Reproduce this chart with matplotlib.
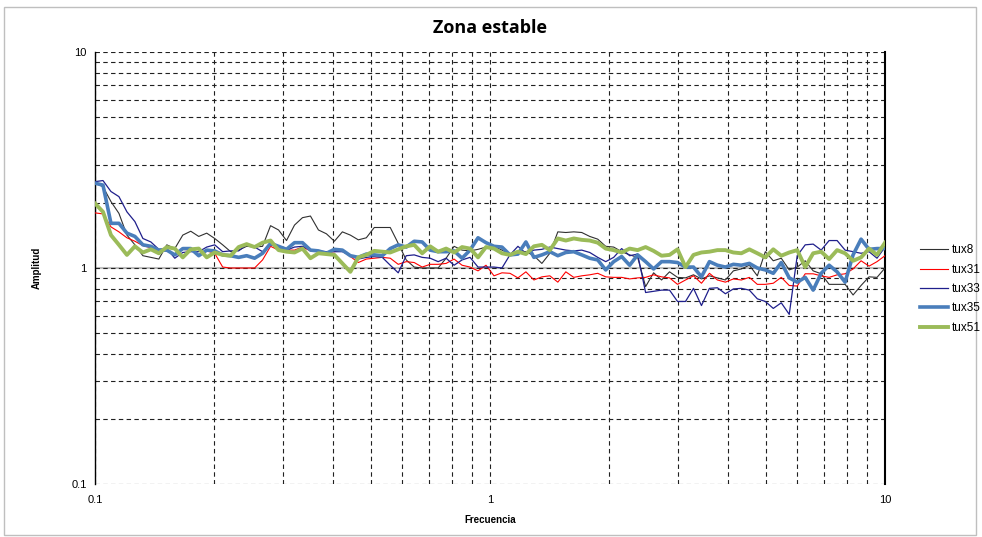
import numpy as np
import matplotlib.pyplot as plt
from matplotlib.patches import Rectangle

# --- Data (log-spaced frequencies 0.1 .. 10) ---
tux8 = [2.47, 2.38, 2.03, 1.79, 1.42, 1.28, 1.14, 1.12, 1.10, 1.28,
        1.23, 1.42, 1.48, 1.40, 1.45, 1.37, 1.28, 1.19, 1.21, 1.26,
        1.25, 1.26, 1.57, 1.50, 1.34, 1.58, 1.71, 1.74, 1.50, 1.44,
        1.33, 1.47, 1.42, 1.35, 1.38, 1.54, 1.54, 1.54, 1.30, 1.09,
        1.01, 1.00, 1.00, 1.00, 1.11, 1.26, 1.21, 1.20, 1.22, 1.25,
        1.26, 1.21, 1.16, 1.19, 1.19, 1.14, 1.05, 1.17, 1.47, 1.46,
        1.47, 1.46, 1.40, 1.36, 1.26, 1.25, 1.19, 1.15, 1.12, 0.82,
        0.95, 0.88, 0.96, 0.905, 0.90, 0.93, 0.89, 0.92, 0.90, 0.88,
        0.97, 0.99, 1.03, 0.92, 1.19, 1.08, 1.11, 0.98, 1.01, 1.08,
        0.97, 0.94, 0.84, 0.84, 0.84, 0.75, 0.83, 0.91, 0.905, 1.00]

tux31 = [1.80, 1.78, 1.55, 1.47, 1.38, 1.33, 1.27, 1.24, 1.21, 1.20,
         1.16, 1.22, 1.21, 1.15, 1.20, 1.17, 1.01, 1.00, 1.00, 1.00,
         1.00, 1.09, 1.26, 1.21, 1.21, 1.21, 1.25, 1.20, 1.19, 1.18,
         1.19, 1.21, 1.13, 1.06, 1.10, 1.11, 1.12, 1.11, 1.04, 1.07,
         1.06, 1.01, 1.04, 1.04, 1.05, 1.10, 1.03, 1.01, 0.97, 1.03,
         0.92, 0.95, 0.945, 0.90, 0.96, 0.88, 0.91, 0.92, 0.86, 0.96,
         0.905, 0.92, 0.93, 0.945, 0.91, 0.905, 0.905, 0.89, 0.90, 0.905,
         0.93, 0.91, 0.90, 0.84, 0.88, 0.92, 0.85, 0.945, 0.88, 0.86,
         0.89, 0.88, 0.905, 0.84, 0.84, 0.85, 0.905, 0.83, 0.825, 0.94,
         0.94, 0.92, 0.905, 0.93, 0.94, 0.99, 1.08, 1.02, 1.07, 1.14]

tux33 = [2.51, 2.54, 2.26, 2.14, 1.82, 1.64, 1.37, 1.32, 1.22, 1.23,
         1.11, 1.18, 1.19, 1.19, 1.25, 1.28, 1.19, 1.20, 1.20, 1.28,
         1.25, 1.19, 1.28, 1.25, 1.21, 1.25, 1.26, 1.21, 1.20, 1.19,
         1.19, 1.19, 1.14, 1.10, 1.12, 1.13, 1.12, 1.03, 0.95, 1.14,
         1.15, 1.12, 1.11, 1.07, 1.11, 1.03, 1.09, 1.12, 1.01, 1.01,
         1.01, 1.00, 1.15, 1.26, 1.17, 1.21, 1.22, 1.25, 1.23, 1.21,
         1.20, 1.21, 1.18, 1.12, 1.07, 1.12, 1.23, 1.14, 1.16, 0.77,
         0.78, 0.79, 0.79, 0.70, 0.70, 0.805, 0.67, 0.805, 0.81, 0.76,
         0.80, 0.805, 0.79, 0.72, 0.70, 0.65, 0.69, 0.61, 1.14, 1.28,
         1.29, 1.21, 1.34, 1.34, 1.21, 1.19, 1.17, 1.19, 1.11, 1.25]

tux35 = [2.47, 2.42, 1.61, 1.61, 1.45, 1.40, 1.28, 1.26, 1.21, 1.21,
         1.15, 1.23, 1.23, 1.14, 1.21, 1.20, 1.15, 1.14, 1.12, 1.14,
         1.11, 1.17, 1.30, 1.26, 1.22, 1.31, 1.31, 1.21, 1.20, 1.17,
         1.22, 1.21, 1.14, 1.12, 1.16, 1.15, 1.14, 1.23, 1.28, 1.25,
         1.33, 1.32, 1.21, 1.19, 1.19, 1.20, 1.11, 1.21, 1.38, 1.31,
         1.26, 1.25, 1.15, 1.16, 1.32, 1.12, 1.15, 1.19, 1.14, 1.18,
         1.19, 1.15, 1.11, 1.09, 0.98, 1.07, 1.13, 1.03, 1.15, 1.07,
         0.99, 1.07, 1.07, 1.06, 1.01, 1.01, 0.91, 1.07, 1.03, 1.01,
         1.04, 1.03, 1.05, 1.00, 0.98, 0.945, 1.06, 0.90, 0.86, 0.905,
         0.79, 0.945, 1.03, 0.96, 0.86, 1.15, 1.36, 1.22, 1.23, 1.23]

tux51 = [1.99, 1.82, 1.42, 1.28, 1.15, 1.26, 1.18, 1.22, 1.17, 1.25,
         1.23, 1.12, 1.22, 1.23, 1.12, 1.18, 1.15, 1.14, 1.25, 1.29,
         1.25, 1.31, 1.34, 1.21, 1.19, 1.18, 1.23, 1.11, 1.17, 1.16,
         1.15, 1.05, 0.96, 1.12, 1.15, 1.20, 1.19, 1.18, 1.22, 1.26,
         1.28, 1.17, 1.26, 1.19, 1.23, 1.18, 1.25, 1.23, 1.12, 1.25,
         1.23, 1.17, 1.15, 1.19, 1.16, 1.26, 1.28, 1.21, 1.37, 1.34,
         1.37, 1.35, 1.34, 1.31, 1.23, 1.21, 1.18, 1.23, 1.21, 1.25,
         1.20, 1.14, 1.15, 1.22, 1.01, 1.15, 1.18, 1.19, 1.21, 1.21,
         1.18, 1.17, 1.22, 1.17, 1.12, 1.22, 1.14, 1.18, 1.21, 1.01,
         1.17, 1.19, 1.10, 1.21, 1.17, 1.08, 1.12, 1.23, 1.15, 1.31]

freq = np.logspace(-1, 1, len(tux8))

series = [
    ('tux8', tux8, '#303030', 0.8),
    ('tux31', tux31, '#FF0000', 0.8),
    ('tux33', tux33, '#1F1F8C', 0.9),
    ('tux35', tux35, '#4A7EBB', 2.6),
    ('tux51', tux51, '#9BBB59', 2.8),
]

plt.rcParams['font.family'] = ['Liberation Sans', 'DejaVu Sans']

fig = plt.figure(figsize=(9.82, 5.37), dpi=100)
ax = fig.add_axes([95 / 982, 1 - 484 / 537, 790 / 982, 432 / 537])

ax.set_xscale('log')
ax.set_yscale('log')
ax.set_xlim(0.1, 10)
ax.set_ylim(0.1, 10)

# dashed grid (major + minor), solid grey line at 1
ax.grid(True, which='both', linestyle=(0, (4, 3)), color='#202020', linewidth=0.8)
ax.axhline(1, color='#BFBFBF', linewidth=1.5, zorder=1.5)

for name, vals, col, lw in series:
    ax.plot(freq, vals, color=col, linewidth=lw, label=name, zorder=3)

for side in ['top', 'bottom']:
    ax.spines[side].set_visible(False)
ax.spines['left'].set_linewidth(1.0)
ax.spines['right'].set_linewidth(1.5)

ax.set_xticks([0.1, 1, 10])
ax.set_xticklabels(['0.1', '1', '10'])
ax.set_yticks([0.1, 1, 10])
ax.set_yticklabels(['0.1', '1', '10'])
ax.tick_params(which='both', length=0, labelsize=8, pad=8)
ax.tick_params(axis='y', pad=6)
ax.minorticks_on()
ax.tick_params(which='minor', length=0, labelleft=False, labelbottom=False)

ax.set_xlabel('Frecuencia', fontsize=7, fontweight='bold', labelpad=7)
ax.set_ylabel('Amplitud', fontsize=7, fontweight='bold', labelpad=21)
fig.text(490 / 982, 1 - 28 / 537, 'Zona estable', fontsize=13, fontweight='bold',
         ha='center', va='center', family=['Open Sans', 'DejaVu Sans'])

fig.legend(loc='center left', bbox_to_anchor=(914 / 982, 1 - 289 / 537),
           frameon=False, fontsize=8.5, handlelength=2.4, handletextpad=0.3,
           labelspacing=0.62, borderpad=0)

fig.add_artist(Rectangle((4 / 982, 2 / 537), 972 / 982, 528 / 537,
                         transform=fig.transFigure, fill=False,
                         edgecolor='#BFBFBF', linewidth=1))

fig.savefig('out.png', dpi=100)
